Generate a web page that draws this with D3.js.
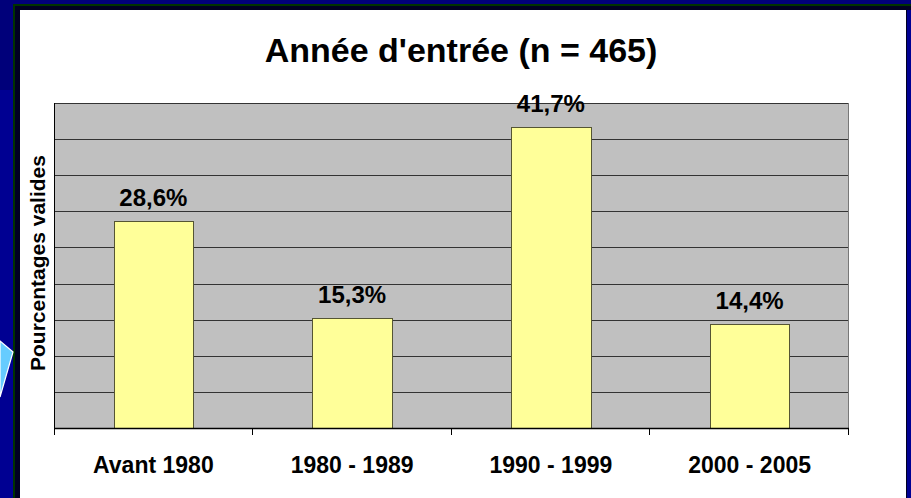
<!DOCTYPE html>
<meta charset="utf-8">
<style>
body { margin: 0; background: #000090; }
svg { display: block; font-family: "Liberation Sans", Arial, sans-serif; font-weight: bold; }
.grid line { stroke: #333; stroke-width: 1px; shape-rendering: crispEdges; }
.grid path { display: none; }
.bar { fill: #ffff99; stroke: #555533; stroke-width: 1px; shape-rendering: crispEdges; }
</style>
<body>
<script src="https://d3js.org/d3.v7.min.js"></script>
<script>

//
// Data
//

var categories = ["Avant 1980", "1980 - 1989", "1990 - 1999", "2000 - 2005"];
var percents = [28.6, 15.3, 41.7, 14.4];
var labels = ["28,6%", "15,3%", "41,7%", "14,4%"];
var gridValues = [5, 10, 15, 20, 25, 30, 35, 40, 45];

var title = "Année d'entrée (n = 465)";
var yTitle = "Pourcentages valides";

//
// Layout
//

var W = 911, H = 498;
var plot = {left: 54, top: 103, right: 849, bottom: 428};

var svg = d3.select("body").append("svg")
    .attr("width", W)
    .attr("height", H);

// slide background
svg.append("rect").attr("width", W).attr("height", H).attr("fill", "#000092");
svg.append("rect").attr("width", W).attr("height", 90).attr("fill", "#00007a");

// frame lines round the panel
svg.append("rect").attr("x", 13).attr("y", 4).attr("width", W - 13).attr("height", H)
    .attr("fill", "#003300");
svg.append("rect").attr("x", 15).attr("y", 6).attr("width", W - 15).attr("height", H)
    .attr("fill", "#000022");
svg.append("rect").attr("x", 907).attr("y", 10).attr("width", 4).attr("height", H)
    .attr("fill", "#000092");
svg.append("rect").attr("x", 20).attr("y", 10).attr("width", 886).attr("height", H)
    .attr("fill", "#fff");

// small light blue shape on the left edge
svg.append("polygon")
    .attr("points", "0,341 13,352 0,397")
    .attr("fill", "#66ccff")
    .attr("stroke", "#fff")
    .attr("stroke-width", 1.2);

//
// Scales
//

var x = d3.scaleBand()
    .domain(categories)
    .range([plot.left, plot.right])
    .paddingInner(0.6)
    .paddingOuter(0.3);

var y = d3.scaleLinear()
    .domain([0, 45])
    .range([plot.bottom, plot.top]);

//
// Plot area
//

svg.append("rect")
    .attr("x", plot.left)
    .attr("y", plot.top)
    .attr("width", plot.right - plot.left)
    .attr("height", plot.bottom - plot.top)
    .attr("fill", "#c0c0c0");

svg.append("g")
    .attr("class", "grid")
    .attr("transform", "translate(" + plot.left + ",0)")
    .call(d3.axisLeft(y).tickValues(gridValues).tickSize(-(plot.right - plot.left)).tickFormat(""));

svg.append("path")
    .attr("d", "M" + (plot.right - 0.5) + "," + plot.bottom + "V" + plot.top)
    .attr("stroke", "#777")
    .attr("fill", "none");

svg.selectAll(".bar").data(percents)
  .enter().append("rect")
    .attr("class", "bar")
    .attr("x", function(d, i) { return x(categories[i]) + 0.5; })
    .attr("y", function(d) { return y(d) + 0.5; })
    .attr("width", x.bandwidth())
    .attr("height", function(d) { return y(0) - y(d); });

svg.selectAll(".value").data(percents)
  .enter().append("text")
    .attr("class", "value")
    .attr("x", function(d, i) { return x(categories[i]) + x.bandwidth() / 2; })
    .attr("y", function(d) { return y(d) - 15; })
    .attr("text-anchor", "middle")
    .attr("font-size", "24px")
    .text(function(d, i) { return labels[i]; });

// axes lines
svg.append("path")
    .attr("d", "M" + (plot.left + 0.5) + "," + plot.top + "V" + (plot.bottom + 7))
    .attr("stroke", "#000")
    .attr("fill", "none");

svg.append("path")
    .attr("d", "M" + plot.left + "," + (plot.bottom + 0.5) + "H" + plot.right)
    .attr("stroke", "#000")
    .attr("stroke-width", 1.5)
    .attr("fill", "none");

var boundaries = d3.range(categories.length + 1).map(function(i) {
  return plot.left + i * x.step();
});

svg.selectAll(".tick-x").data(boundaries.slice(1))
  .enter().append("line")
    .attr("class", "tick-x")
    .attr("x1", function(d) { return Math.round(d) - 0.5; })
    .attr("x2", function(d) { return Math.round(d) - 0.5; })
    .attr("y1", plot.bottom)
    .attr("y2", plot.bottom + 7)
    .attr("stroke", "#000");

svg.selectAll(".cat").data(categories)
  .enter().append("text")
    .attr("class", "cat")
    .attr("x", function(d) { return x(d) + x.bandwidth() / 2; })
    .attr("y", 473)
    .attr("text-anchor", "middle")
    .attr("font-size", "23px")
    .text(function(d) { return d; });

//
// Titles
//

svg.append("text")
    .attr("x", 461)
    .attr("y", 62)
    .attr("text-anchor", "middle")
    .attr("font-size", "34px")
    .text(title);

svg.append("text")
    .attr("transform", "translate(45,263) rotate(-90)")
    .attr("text-anchor", "middle")
    .attr("font-size", "21px")
    .text(yTitle);

</script>
</body>
